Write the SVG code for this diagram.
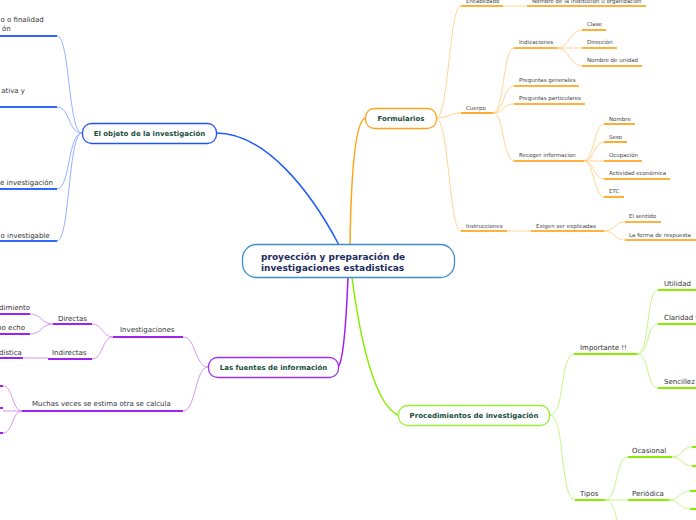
<svg xmlns="http://www.w3.org/2000/svg" width="696" height="520" viewBox="0 0 696 520">
<style>
text{font-family:"DejaVu Sans","Liberation Sans",sans-serif;fill:#333}
.t{font-size:7px}
.s{font-size:5.5px;fill:#444}
.n{font-size:7px;font-weight:bold;fill:#1b4d3e}
.c{font-size:9px;font-weight:bold;fill:#1c2b5c}
.e{text-anchor:end}
.nb{fill:#fff;stroke-width:1.3}
path{fill:none}
.bl{stroke:#89a9ff;stroke-width:0.9}
.bu{stroke:#3366ff;stroke-width:2}
.ol{stroke:#ffcf88;stroke-width:0.9}
.ou{stroke:#ff9900;stroke-width:1.6}
.pl{stroke:#cf8cf5;stroke-width:0.9}
.pu{stroke:#a020f0;stroke-width:2}
.gl{stroke:#bdf47a;stroke-width:0.9}
.gu{stroke:#88ee00;stroke-width:2}
</style>
<g id="connectors">
<path d="M216 133 C265 133 310 190 339 245" stroke="#1e5cff" stroke-width="1.5"/>
<path d="M365 118 C355 122 351 180 350 244" stroke="#ffa31a" stroke-width="1.5"/>
<path d="M338 367 C345 360 347 300 348 277" stroke="#a020f0" stroke-width="1.5"/>
<path d="M352 277 C360 340 375 405 398 415" stroke="#88ee00" stroke-width="1.5"/>
<path class="bl" d="M82 133 C68 133 70 36 57 36"/>
<path class="bl" d="M82 133 C68 133 70 107 57 107"/>
<path class="bl" d="M82 133 C68 133 70 189 57 189"/>
<path class="bl" d="M82 133 C68 133 70 241 57 241"/>
<path class="ol" d="M436 118 C449 118 449 6 461 6"/>
<path class="ol" d="M436 118 C449 118 449 113 461 113"/>
<path class="ol" d="M436 118 C449 118 449 231 461 231"/>
<path class="ol" d="M503 6 H527"/>
<path class="ol" d="M493 113 C504 113 503 48 514 48"/>
<path class="ol" d="M493 113 C504 113 503 86 514 86"/>
<path class="ol" d="M493 113 C504 113 503 104 514 104"/>
<path class="ol" d="M493 113 C504 113 503 161 514 161"/>
<path class="ol" d="M557 48 C570 48 569 30 582 30"/>
<path class="ol" d="M557 48 H582"/>
<path class="ol" d="M557 48 C570 48 569 66 582 66"/>
<path class="ol" d="M584 161 C594 161 594 124 604 124"/>
<path class="ol" d="M584 161 C594 161 594 142 604 142"/>
<path class="ol" d="M584 161 H604"/>
<path class="ol" d="M584 161 C594 161 594 179 604 179"/>
<path class="ol" d="M584 161 C594 161 594 197 604 197"/>
<path class="ol" d="M507 231 H531"/>
<path class="ol" d="M604 231 C615 231 614 222 625 222"/>
<path class="ol" d="M604 231 C615 231 614 240 625 240"/>
<path class="pl" d="M208 367 C195 367 196 337 183 337"/>
<path class="pl" d="M208 367 C195 367 196 411 183 411"/>
<path class="pl" d="M113 337 C102 337 103 324 92 324"/>
<path class="pl" d="M113 337 C102 337 103 359 92 359"/>
<path class="pl" d="M53 324 C41 324 42 314 30 314"/>
<path class="pl" d="M53 324 C41 324 42 334 30 334"/>
<path class="pl" d="M48 358 H23"/>
<path class="pl" d="M22 411 C12 411 13 386 3 386"/>
<path class="pl" d="M22 411 H3"/>
<path class="pl" d="M22 411 C12 411 13 433 3 433"/>
<path class="gl" d="M550 415 C565 415 560 354 574 354"/>
<path class="gl" d="M550 415 C565 415 560 500 575 500"/>
<path class="gl" d="M637 354 C650 354 646 290 658 290"/>
<path class="gl" d="M637 354 C650 354 646 324 658 324"/>
<path class="gl" d="M637 354 C650 354 646 388 658 388"/>
<path class="gl" d="M605 500 C618 500 615 457 628 457"/>
<path class="gl" d="M605 500 H628"/>
<path class="gl" d="M605 500 C612 500 615 510 618 525"/>
<path class="gl" d="M672 457 C683 457 681 447 692 447"/>
<path class="gl" d="M672 457 C683 457 681 466 692 466"/>
<path class="gl" d="M669 500 C680 500 679 491 690 491"/>
<path class="gl" d="M669 500 C680 500 679 509 690 509"/>
</g>
<g id="center">
<rect class="nb" x="242.5" y="244.5" width="212" height="33" rx="14" stroke="#3a8fd0"/>
<text class="c" x="261" y="260">proyección y preparación de</text>
<text class="c" x="261" y="271">investigaciones estadisticas</text>
</g>
<g id="objeto">
<rect class="nb" x="82.5" y="123.5" width="134" height="20" rx="9" stroke="#2255ee"/>
<text class="n" x="149.5" y="136" text-anchor="middle">El objeto de la investigación</text>
</g>
<g id="objeto-children">
<text class="t" x="0.5" y="22">o o finalidad</text>
<text class="t" x="2" y="31">ón</text>
<path class="bu" d="M0 36 H57"/>
<text class="t e" x="25" y="93">ativa y</text>
<path class="bu" d="M0 107 H57"/>
<text class="t e" x="53" y="185">e investigación</text>
<path class="bu" d="M0 189 H57"/>
<text class="t" x="0.5" y="238">o investigable</text>
<path class="bu" d="M0 241 H57"/>
</g>
<g id="formularios">
<rect class="nb" x="365.5" y="108.5" width="71" height="20" rx="9" stroke="#ffa31a"/>
<text class="n" x="401" y="121" text-anchor="middle">Formularios</text>
</g>
<g id="formularios-children">
<text class="s" x="466" y="2.5">Encabezado</text><path class="ou" d="M461 6 H503"/>
<text class="s" x="532" y="2.5">Nombre de la institución u organización</text><path class="ou" d="M527 6 H646"/>
<text class="s" x="466" y="110">Cuerpo</text><path class="ou" d="M461 113 H493"/>
<text class="s" x="519" y="44">Indicaciones</text><path class="ou" d="M514 48 H557"/>
<text class="s" x="587" y="26">Clase</text><path class="ou" d="M582 30 H606"/>
<text class="s" x="587" y="44">Dirección</text><path class="ou" d="M582 48 H617"/>
<text class="s" x="587" y="62">Nombre de unidad</text><path class="ou" d="M582 66 H642"/>
<text class="s" x="519" y="82">Preguntas generales</text><path class="ou" d="M514 86 H579"/>
<text class="s" x="519" y="100">Preguntas particulares</text><path class="ou" d="M514 104 H585"/>
<text class="s" x="519" y="157">Recoger informacion</text><path class="ou" d="M514 161 H584"/>
<text class="s" x="609" y="120.5">Nombre</text><path class="ou" d="M604 124 H635"/>
<text class="s" x="609" y="138.5">Sexo</text><path class="ou" d="M604 142 H627"/>
<text class="s" x="609" y="157">Ocupación</text><path class="ou" d="M604 161 H642"/>
<text class="s" x="609" y="175">Actividad económica</text><path class="ou" d="M604 179 H670"/>
<text class="s" x="609" y="193">ETC</text><path class="ou" d="M604 197 H624"/>
<text class="s" x="466" y="227.5">Instrucciones</text><path class="ou" d="M461 231 H507"/>
<text class="s" x="536" y="227.5">Exigen ser explicadas</text><path class="ou" d="M531 231 H604"/>
<text class="s" x="629" y="218">El sentido</text><path class="ou" d="M625 222 H661"/>
<text class="s" x="629" y="236.5">La forma de respuesta</text><path class="ou" d="M625 240 H700"/>
</g>
<g id="fuentes">
<rect class="nb" x="208.5" y="357.5" width="130" height="20" rx="9" stroke="#9b30f0"/>
<text class="n" x="273.5" y="370" text-anchor="middle">Las fuentes de información</text>
</g>
<g id="fuentes-children">
<text class="t" x="120" y="332">Investigaciones</text><path class="pu" d="M113 337 H183"/>
<text class="t" x="58" y="321">Directas</text><path class="pu" d="M53 324 H92"/>
<text class="t" x="52" y="355">Indirectas</text><path class="pu" d="M48 359 H92"/>
<text class="t" x="-1" y="310">dimiento</text><path class="pu" d="M0 314 H30"/>
<text class="t e" x="25" y="330">mo echo</text><path class="pu" d="M0 334 H30"/>
<text class="t" x="-1" y="355">dística</text><path class="pu" d="M0 358 H23"/>
<text class="t" x="32" y="406">Muchas veces se estima otra se calcula</text><path class="pu" d="M22 411 H183"/>
<path class="pu" d="M0 386 H3"/><path class="pu" d="M0 408 H3"/><path class="pu" d="M0 433 H3"/>
</g>
<g id="procedimientos">
<rect class="nb" x="398.5" y="405.5" width="151" height="20" rx="9" stroke="#99ee33"/>
<text class="n" x="474" y="418" text-anchor="middle">Procedimientos de investigación</text>
</g>
<g id="procedimientos-children">
<text class="t" x="580" y="350">Importante !!</text><path class="gu" d="M574 354 H637"/>
<text class="t" x="664" y="286">Utilidad</text><path class="gu" d="M658 290 H700"/>
<text class="t" x="664" y="320">Claridad y</text><path class="gu" d="M658 324 H700"/>
<text class="t" x="664" y="384">Sencillez</text><path class="gu" d="M658 388 H700"/>
<text class="t" x="580" y="496">Tipos</text><path class="gu" d="M575 500 H605"/>
<text class="t" x="632" y="453">Ocasional</text><path class="gu" d="M628 457 H672"/>
<text class="t" x="632" y="496">Periódica</text><path class="gu" d="M628 500 H669"/>
<path class="gu" d="M692 447 H700"/><path class="gu" d="M692 466 H700"/>
<path class="gu" d="M690 491 H700"/><path class="gu" d="M690 509 H700"/>
</g>
</svg>
